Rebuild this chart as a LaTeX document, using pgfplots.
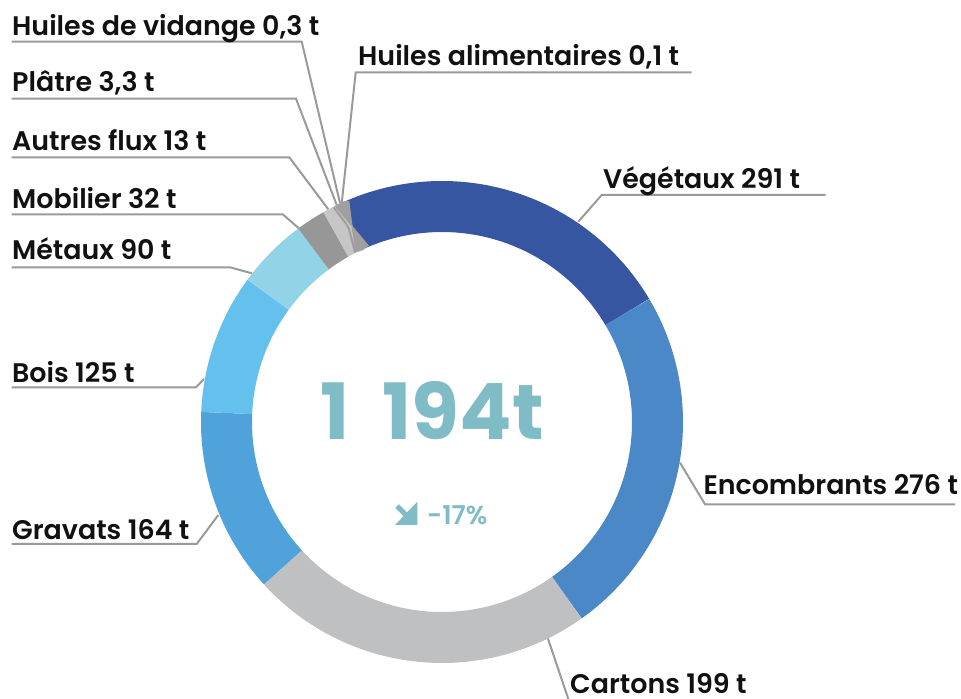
\documentclass[border=0pt]{standalone}
\usepackage{fontspec}
\setmainfont{Poppins}
\newfontfamily\labfont{Poppins SemiBold}
\newfontfamily\numfont{Poppins Bold}
\usepackage{pgfplots}
\usepackage{pgfplotstable}
\pgfplotsset{compat=1.18}

\definecolor{slice0}{HTML}{3656A2}
\definecolor{slice1}{HTML}{4A88C8}
\definecolor{slice2}{HTML}{BFC0C2}
\definecolor{slice3}{HTML}{4FA3DA}
\definecolor{slice4}{HTML}{64C1EE}
\definecolor{slice5}{HTML}{93D3E7}
\definecolor{slice6}{HTML}{979797}
\definecolor{slice7}{HTML}{C6C6C6}
\definecolor{slice8}{HTML}{9E9E9E}
\definecolor{slice9}{HTML}{C6C6C6}
\definecolor{slice10}{HTML}{A0A0A0}
\definecolor{leader}{HTML}{9A9A9A}
\definecolor{tealtxt}{HTML}{80BCC6}
\definecolor{labtxt}{HTML}{111111}

% angular share of each slice as drawn (degrees, clockwise from 114.5 deg)
\pgfplotstableread{
name            deg
Vegetaux        83.8
Encombrants     85.3
Cartons         83.0
Gravats         44.8
Bois            33.8
Metaux          17.2
Mobilier        7.1
Autres          3.5
Platre          0.6
Vidange         0.55
Alimentaires    0.35
}\slices
\pgfplotstablecreatecol[create col/expr accum={\pgfmathaccuma + \thisrow{deg}}{0}]{cum}\slices

\begin{document}
\begin{tikzpicture}
\begin{axis}[
  hide axis, scale only axis,
  width=961bp, height=699bp,
  xmin=0, xmax=961, ymin=0, ymax=699,
  clip=true,
]
% leader lines
\addplot[leader, line width=2bp] coordinates {(11.7,657.3) (301.7,657.3) (340,496)};
\addplot[leader, line width=2bp] coordinates {(11.7,600.3) (296,600.3) (336.7,494)};
\addplot[leader, line width=2bp] coordinates {(11.7,541.7) (289.3,541.7) (328.3,489.7)};
\addplot[leader, line width=2bp] coordinates {(11.7,484.7) (282.7,484.7) (300,469.7)};
\addplot[leader, line width=2bp] coordinates {(11.7,431.7) (230,431.7) (251.7,425.7)};
\addplot[leader, line width=2bp] coordinates {(691.7,626.7) (355.7,626.7) (341.7,495.7)};
\addplot[leader, line width=2bp] coordinates {(825.7,504) (601.7,504) (578.3,477.3)};
\addplot[leader, line width=2bp] coordinates {(955,194.7) (705,194.7) (680,236.3)};
\addplot[leader, line width=2bp] coordinates {(547.3,62.3) (569,-2)};
\addplot[leader, line width=2bp] coordinates {(11.7,155) (196.7,155) (218.3,184)};
\addplot[leader, line width=2bp] coordinates {(11.7,311.7) (196,311.7) (204,320)};

% donut ring
\pgfplotsinvokeforeach{0,...,10}{
  \pgfplotstablegetelem{#1}{cum}\of\slices
  \pgfmathsetmacro\aend{114.5-\pgfplotsretval}
  \pgfplotstablegetelem{#1}{deg}\of\slices
  \pgfmathsetmacro\astart{\aend+\pgfplotsretval}
  \edef\doplot{\noexpand\addplot[draw=slice#1, line width=51bp, line cap=butt, domain=\aend:\astart, samples=90] ({442+215.5*cos(x)},{277+215.5*sin(x)});}
  \doplot
}

% labels
\tikzset{lab/.style={anchor=base west, inner sep=0pt, text=labtxt, font=\labfont\fontsize{27}{32}\selectfont}}
\node[lab] at (axis cs:12,663) {Huiles de vidange 0,3 t};
\node[lab] at (axis cs:12,607.3) {Plâtre 3,3 t};
\node[lab] at (axis cs:12,548.3) {Autres flux 13 t};
\node[lab] at (axis cs:12,490.7) {Mobilier 32 t};
\node[lab] at (axis cs:12,439) {Métaux 90 t};
\node[lab] at (axis cs:358,633.3) {Huiles alimentaires 0,1 t};
\node[lab] at (axis cs:603,510.7) {Végétaux 291 t};
\node[lab] at (axis cs:703.3,204) {Encombrants 276 t};
\node[lab] at (axis cs:570,6) {Cartons 199 t};
\node[lab] at (axis cs:12,159.7) {Gravats 164 t};
\node[lab] at (axis cs:12,316.7) {Bois 125 t};

% centre
\node[anchor=base, inner sep=0pt, text=tealtxt, font=\numfont\fontsize{78}{90}\selectfont] at (axis cs:432.5,259) {1\hspace{0.42em}194t};
\node[anchor=base west, inner sep=0pt, text=tealtxt, font=\labfont\fontsize{26}{30}\selectfont] at (axis cs:427,174.7) {-17\%};
\fill[tealtxt] (axis cs:417.3,197.3) -- (axis cs:417.3,174) -- (axis cs:395,174) -- cycle;
\draw[tealtxt, line width=5bp] (axis cs:397,193) -- (axis cs:409,181);
\end{axis}
\pgfresetboundingbox
\path (current axis.south west) rectangle (current axis.north east);
\end{tikzpicture}
\end{document}
